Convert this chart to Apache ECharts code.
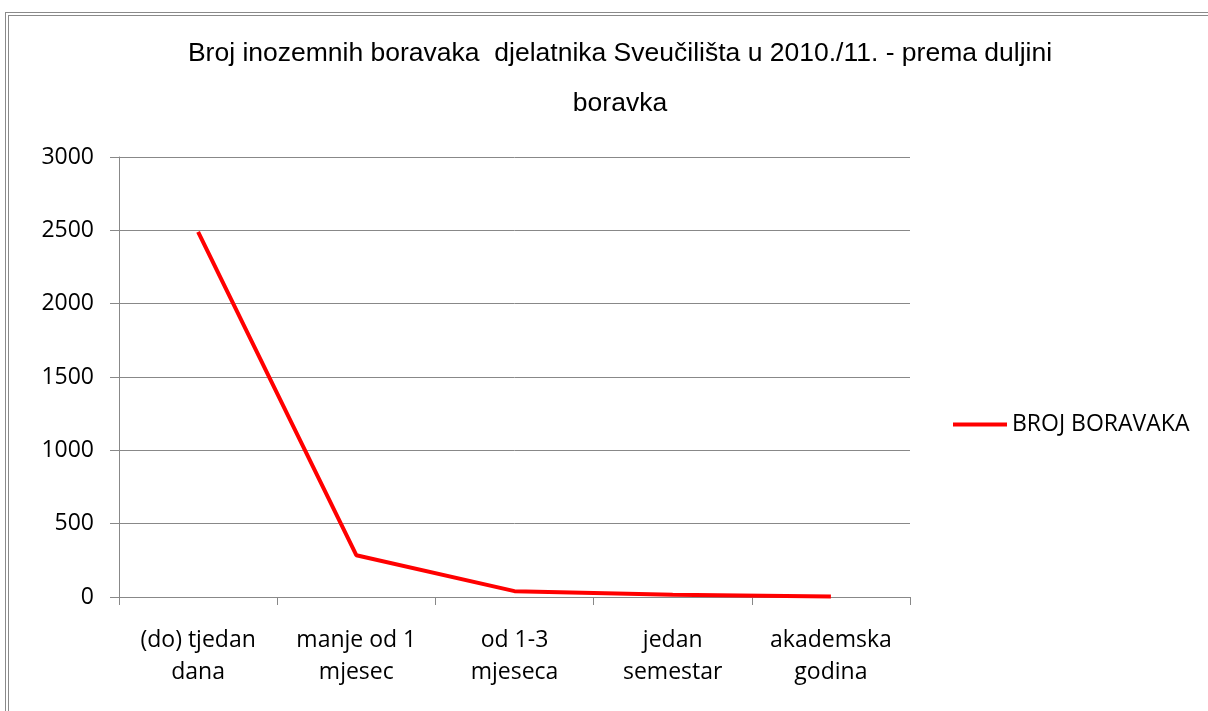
<!DOCTYPE html>
<html lang="hr">
  <head>
    <meta charset="UTF-8" />
    <title>Broj inozemnih boravaka</title>
    <style>
      body { margin: 0; background: #fff; }
      #frame {
        position: absolute; left: 5px; top: 12px; width: 1220px; height: 720px;
        border-left: 4px double #8a8a8a; border-top: 4px double #8a8a8a;
      }
      #main { position: absolute; left: 0; top: 0; width: 1208px; height: 711px; }
    </style>
  </head>
  <body>
    <div id="frame"></div>
    <div id="main"></div>
    <script src="https://cdn.jsdelivr.net/npm/echarts@6/dist/echarts.min.js"></script>
    <script>
      // kategorije i vrijednosti očitane sa slike
      const categories = [
        "(do) tjedan\ndana",
        "manje od 1\nmjesec",
        "od 1-3\nmjeseca",
        "jedan\nsemestar",
        "akademska\ngodina",
      ];
      const boravci = [2490, 285, 40, 15, 3];
      const seriesName = "BROJ BORAVAKA";

      let mchart = echarts.init(document.getElementById("main"));
      let option = {
        animation: false,
        title: {
          text: "Broj inozemnih boravaka  djelatnika Sveučilišta u 2010./11. - prema duljini\nboravka",
          left: 615,
          textAlign: "center",
          top: 24,
          textStyle: {
            fontFamily: "Liberation Sans",
            fontSize: 26.5,
            fontWeight: "normal",
            color: "#000",
            lineHeight: 50,
          },
        },
        legend: {
          left: 948,
          top: 408,
          itemWidth: 54,
          itemHeight: 4,
          itemGap: 6,
          icon: "rect",
          textStyle: { fontFamily: "Open Sans", fontSize: 23, color: "#000" },
          data: [seriesName],
        },
        grid: { left: 119, right: 298, top: 157, bottom: 114 },
        xAxis: {
          type: "category",
          data: categories,
          boundaryGap: true,
          axisLine: { lineStyle: { color: "#888" } },
          axisTick: { show: true, length: 8, lineStyle: { color: "#888" } },
          axisLabel: {
            color: "#000",
            fontFamily: "Open Sans",
            fontSize: 23,
            lineHeight: 32,
            margin: 27,
            interval: 0,
          },
        },
        yAxis: {
          type: "value",
          min: 0,
          max: 3000,
          interval: 500,
          axisLine: { show: true, lineStyle: { color: "#888" } },
          axisTick: { show: true, length: 9, lineStyle: { color: "#888" } },
          splitLine: { lineStyle: { color: "#888" } },
          axisLabel: {
            color: "#000",
            fontFamily: "Open Sans",
            fontSize: 23,
            margin: 25,
            formatter: (v) => String(v),
          },
        },
        series: [
          {
            name: seriesName,
            type: "line",
            data: boravci,
            showSymbol: false,
            symbol: "none",
            itemStyle: { color: "#ff0000" },
            lineStyle: { color: "#ff0000", width: 4 },
          },
        ],
      };
      mchart.setOption(option);
    </script>
  </body>
</html>
